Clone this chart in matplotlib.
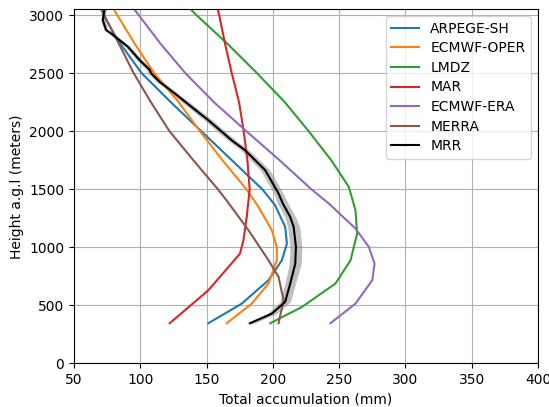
import matplotlib
matplotlib.use('Agg')
import matplotlib.pyplot as plt
import numpy as np

# heights (m) and total accumulation (mm)
arpege_h = [345, 514, 716, 888, 1032, 1175, 1362, 1500, 1750, 2000, 2250, 2500, 2784, 2984, 3050]
arpege_x = [151.3, 176.5, 196.7, 206.8, 210.6, 209.3, 201.7, 192, 169, 146, 123, 101, 83, 73, 71]

oper_h = [345, 514, 687, 888, 1003, 1147, 1347, 1500, 1750, 2000, 2250, 2500, 2750, 3050]
oper_x = [165.2, 184, 196.7, 203, 203, 199.2, 189.2, 180, 162, 145, 129, 110.5, 96, 80]

lmdz_h = [345, 486, 687, 888, 1118, 1319, 1520, 1750, 2000, 2250, 2500, 2750, 3000, 3050]
lmdz_x = [198, 222, 247.2, 258.6, 263.6, 262.3, 257.3, 244, 227, 209, 188, 166, 142.4, 138]

mar_h = [345, 629, 945, 1060, 1261, 1500, 1750, 2000, 2250, 2500, 2750, 3000, 3050]
mar_x = [122.2, 151.3, 175.2, 177.8, 180.3, 182.5, 180.8, 178, 174.5, 169, 164, 159.5, 158.5]

era_h = [345, 514, 716, 859, 1003, 1161, 1377, 1500, 1750, 2000, 2250, 2500, 2750, 3050]
era_x = [243.4, 262.3, 275, 276.7, 272.4, 262.3, 242.2, 229, 205, 180, 155.5, 134, 115.5, 95.5]

merra_h = [345, 543, 744, 888, 1147, 1405, 1500, 1750, 2000, 2250, 2500, 2750, 3050]
merra_x = [204.3, 208.1, 204.3, 196.7, 181.6, 165, 158.5, 140, 122, 108, 95, 84, 70.5]

mrr_h = [345, 428, 529, 687, 859, 1003, 1175, 1261, 1377, 1463, 1549, 1664, 1750, 1836, 1922,
         2095, 2210, 2325, 2425, 2497, 2530, 2612, 2727, 2842, 2871, 2957, 3050]
mrr_x = [182.8, 199.2, 209.3, 213.1, 216.9, 217.4, 215.7, 213.1, 207.5, 204.3, 200, 194.2, 186.6, 179, 168.9,
         151.3, 138.6, 126, 114.6, 108.3, 107, 99.5, 90.7, 78, 74.2, 71.7, 73]
mrr_err = [3, 3.5, 4, 4, 4.5, 4.5, 4.5, 4, 4, 3.5, 3.5, 3.5, 3.5, 3, 3,
           3, 3, 2.5, 2.5, 2.5, 2.5, 2, 2, 2, 1.5, 1.5, 1.5]

fig = plt.figure(figsize=(5.49, 4.07), dpi=100)
ax = fig.add_axes([74 / 549, 43.7 / 407, 464 / 549, 354 / 407])

ax.plot(arpege_x, arpege_h, color='C0', label='ARPEGE-SH')
ax.plot(oper_x, oper_h, color='C1', label='ECMWF-OPER')
ax.plot(lmdz_x, lmdz_h, color='C2', label='LMDZ')
ax.plot(mar_x, mar_h, color='C3', label='MAR')
ax.plot(era_x, era_h, color='C4', label='ECMWF-ERA')
ax.plot(merra_x, merra_h, color='C5', label='MERRA')

mx = np.array(mrr_x)
me = np.array(mrr_err)
ax.fill_betweenx(mrr_h, mx - me, mx + me, color='gray', alpha=0.5, lw=0)
ax.plot(mrr_x, mrr_h, color='k', label='MRR')

ax.set_xlim(50, 400)
ax.set_ylim(0, 3050)
ax.grid(True, color='#b0b0b0')
ax.set_axisbelow(True)
ax.set_xlabel('Total accumulation (mm)')
ax.set_ylabel('Height a.g.l (meters)')
ax.legend(loc='upper right', labelspacing=0.4)

fig.savefig('out.png', dpi=100)
